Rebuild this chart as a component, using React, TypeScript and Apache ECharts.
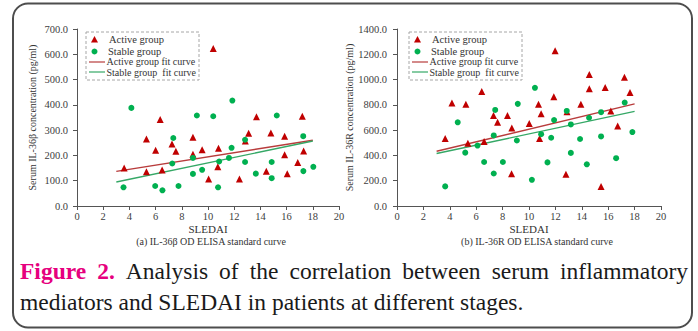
import React, { useEffect, useRef } from 'react';
import * as echarts from 'echarts';

// ---------- data ----------
const xMin = 0;
const xMax = 20;
const xInterval = 2;

const leftYMax = 700;
const leftYInterval = 100;
const rightYMax = 1400;
const rightYInterval = 200;

// (a) IL-36β : [SLEDAI, concentration]
const leftActive: [number, number][] = [
  [3.6, 150], [5.3, 265], [5.3, 135], [6.0, 220], [6.35, 342], [6.5, 142], [7.25, 245],
  [7.55, 217], [8.85, 272], [8.85, 205], [9.55, 222], [10.05, 107], [10.4, 623],
  [10.75, 155], [10.8, 228], [12.4, 107], [12.85, 257], [13.1, 288], [13.7, 353],
  [14.45, 137], [14.8, 289], [15.85, 276], [15.85, 203], [16.05, 128], [16.85, 172],
  [17.2, 355], [17.3, 218],
];
const leftStable: [number, number][] = [
  [3.55, 74], [4.15, 388], [5.97, 79], [6.52, 62], [7.27, 168], [7.35, 269], [7.75, 79],
  [8.85, 127], [8.85, 190], [9.15, 358], [9.55, 143], [10.4, 355], [10.77, 74],
  [10.85, 176], [11.6, 190], [11.8, 230], [11.86, 417], [12.83, 262], [12.83, 174],
  [13.65, 128], [14.86, 174], [14.86, 110], [15.25, 358], [17.27, 276], [17.28, 138],
  [18.04, 155],
];
const leftActiveFit: [number, number][] = [[3, 137], [18, 260]];
const leftStableFit: [number, number][] = [[3, 95], [18, 257]];

// (b) IL-36R : [SLEDAI, concentration]
const rightActive: [number, number][] = [
  [3.65, 533], [4.16, 815], [5.22, 805], [5.37, 497], [6.42, 905], [6.6, 510], [7.31, 715],
  [7.62, 662], [8.37, 715], [8.7, 617], [8.68, 255], [10.02, 652], [10.72, 805],
  [10.8, 533], [10.92, 730], [11.88, 865], [11.98, 1228], [12.8, 252], [12.88, 745],
  [13.93, 805], [14.57, 1040], [14.57, 928], [15.46, 155], [15.77, 938], [16.2, 752],
  [16.72, 632], [17.23, 1018], [17.65, 898],
];
const rightStable: [number, number][] = [
  [3.65, 155], [4.6, 662], [5.17, 422], [6.1, 478], [6.6, 348], [7.33, 558], [7.33, 257],
  [7.44, 760], [8.02, 348], [9.08, 518], [9.15, 808], [10.22, 207], [10.45, 935],
  [10.92, 568], [11.4, 345], [11.68, 540], [11.9, 680], [12.86, 752], [13.17, 645],
  [13.17, 420], [13.87, 530], [14.38, 330], [14.55, 698], [15.46, 550], [15.46, 742],
  [16.6, 378], [17.25, 818], [17.83, 585],
];
const rightActiveFit: [number, number][] = [[3, 433], [18, 808]];
const rightStableFit: [number, number][] = [[3, 415], [18, 748]];

const legendLabels = ['Active group', 'Stable group', 'Active group fit curve', 'Stable group  fit curve'];
const xName = 'SLEDAI';
const leftYName = 'Serum IL-36β concentration (pg/ml)';
const rightYName = 'Serum IL-36R concentration (pg/ml)';
const leftSub = '(a) IL-36β OD ELISA standard curve';
const rightSub = '(b) IL-36R OD ELISA standard curve';
const captionLine1 = ['Figure', '2.', 'Analysis', 'of', 'the', 'correlation', 'between', 'serum', 'inflammatory'];
const captionLine2 = 'mediators and SLEDAI in patients at different stages.';

// ---------- styles ----------
const FONT = '"Liberation Serif", "Times New Roman", serif';
const AXIS = '#555555';
const LABEL = '#404040';
const RED = '#c00000';
const GREEN = '#00b050';
const RED_LINE = '#b83c3c';
const GREEN_LINE = '#35a866';
const PINK = '#e6007e';

function xAxisCfg(gridIndex: number) {
  return {
    type: 'value', gridIndex, min: xMin, max: xMax, interval: xInterval,
    name: xName, nameLocation: 'middle', nameGap: 17, nameMoveOverlap: false,
    nameTextStyle: { fontFamily: FONT, fontSize: 11, color: '#333' },
    axisLine: { show: true, onZero: false, lineStyle: { color: AXIS, width: 1 } },
    axisTick: { show: true, inside: false, length: 4, lineStyle: { color: AXIS } },
    axisLabel: { fontFamily: FONT, fontSize: 10.5, color: LABEL, margin: 5 },
    splitLine: { show: false },
  };
}
function yAxisCfg(gridIndex: number, max: number, interval: number, name: string, gap: number, margin: number) {
  return {
    type: 'value', gridIndex, min: 0, max, interval,
    name, nameLocation: 'middle', nameGap: gap,
    nameTextStyle: { fontFamily: FONT, fontSize: 10, color: '#333' },
    axisLine: { show: true, onZero: false, lineStyle: { color: AXIS, width: 1 } },
    axisTick: { show: true, inside: false, length: 4, lineStyle: { color: AXIS } },
    axisLabel: { fontFamily: FONT, fontSize: 10.5, color: LABEL, margin, formatter: (v: number) => v.toFixed(1) },
    splitLine: { show: false },
  };
}

function txt(x: number, y: number, text: string, size: number, extra: any = {}) {
  return {
    type: 'text', x, y, silent: true,
    style: {
      text, fill: extra.fill || '#333', fontSize: size, fontFamily: FONT,
      fontWeight: extra.fontWeight || 'normal',
      align: extra.align || 'left', textAlign: extra.align || 'left',
      verticalAlign: 'middle', textVerticalAlign: 'middle',
    },
  };
}

function legendGraphic(dx: number) {
  const bx = 86 + dx;
  return [
    { type: 'rect', silent: true, shape: { x: bx, y: 32, width: 113, height: 48 },
      style: { fill: 'none', stroke: '#a6a6a6', lineWidth: 1, lineDash: [3, 2] } },
    { type: 'polygon', silent: true, shape: { points: [[bx + 8.5, 36], [bx + 12, 42.5], [bx + 5, 42.5]] }, style: { fill: RED } },
    txt(bx + 23, 39.5, legendLabels[0], 10.5),
    { type: 'circle', silent: true, shape: { cx: bx + 8.5, cy: 51.5, r: 3 }, style: { fill: GREEN } },
    txt(bx + 22, 51.5, legendLabels[1], 10.5),
    { type: 'line', silent: true, shape: { x1: bx + 3, y1: 62, x2: bx + 19, y2: 62 }, style: { stroke: RED_LINE, lineWidth: 1.2 } },
    txt(bx + 20.5, 61.5, legendLabels[2], 10),
    { type: 'line', silent: true, shape: { x1: bx + 3, y1: 72, x2: bx + 19, y2: 72 }, style: { stroke: GREEN_LINE, lineWidth: 1.2 } },
    txt(bx + 20.5, 72, legendLabels[3], 10),
  ];
}

function captionGraphic() {
  const size = 23.5;
  const left = 20;
  const right = 688;
  const ctx = document.createElement('canvas').getContext('2d')!;
  const widths = captionLine1.map((w, i) => {
    ctx.font = `${i < 2 ? 'bold ' : ''}${size}px ${FONT}`;
    return ctx.measureText(w).width;
  });
  const total = widths.reduce((a, b) => a + b, 0);
  const gap = Math.max(4, (right - left - total) / (captionLine1.length - 1));
  const els: any[] = [];
  let x = left;
  captionLine1.forEach((w, i) => {
    els.push(txt(x, 271, w, size, i < 2 ? { fill: PINK, fontWeight: 'bold' } : { fill: '#1a1a1a' }));
    x += widths[i] + gap;
  });
  els.push(txt(left, 302, captionLine2, size, { fill: '#1a1a1a' }));
  return els;
}

export default function App() {
  const ref = useRef<HTMLDivElement>(null);
  useEffect(() => {
    const chart = echarts.init(ref.current!, null, { renderer: 'svg' });
    const scatter = (data: [number, number][], idx: number, active: boolean) => ({
      type: 'scatter', xAxisIndex: idx, yAxisIndex: idx, data,
      symbol: active ? 'triangle' : 'circle', symbolSize: active ? 7 : 6,
      itemStyle: { color: active ? RED : GREEN, opacity: 1 }, z: 3,
    });
    const fit = (data: [number, number][], idx: number, active: boolean) => ({
      type: 'line', xAxisIndex: idx, yAxisIndex: idx, data, symbol: 'none', silent: true,
      lineStyle: { color: active ? RED_LINE : GREEN_LINE, width: 1.4 }, z: 2,
    });
    chart.setOption({
      animation: false,
      backgroundColor: '#ffffff',
      textStyle: { fontFamily: FONT },
      grid: [
        { left: 77, top: 29, width: 262, height: 177 },
        { left: 397, top: 29, width: 264, height: 177 },
      ],
      xAxis: [xAxisCfg(0), xAxisCfg(1)],
      yAxis: [
        yAxisCfg(0, leftYMax, leftYInterval, leftYName, 40, 9),
        yAxisCfg(1, rightYMax, rightYInterval, rightYName, 41, 10),
      ],
      series: [
        fit(leftActiveFit, 0, true),
        fit(leftStableFit, 0, false),
        scatter(leftActive, 0, true),
        scatter(leftStable, 0, false),
        fit(rightActiveFit, 1, true),
        fit(rightStableFit, 1, false),
        scatter(rightActive, 1, true),
        scatter(rightStable, 1, false),
      ],
      graphic: [
        { type: 'rect', silent: true, shape: { x: 13, y: 3.5, width: 679, height: 324, r: 15 },
          style: { fill: 'none', stroke: '#4d4d4d', lineWidth: 2 } },
        ...legendGraphic(0),
        ...legendGraphic(323),
        txt(211, 241.5, leftSub, 10, { align: 'center' }),
        txt(537, 241.5, rightSub, 10, { align: 'center' }),
        ...captionGraphic(),
      ],
    });
    return () => chart.dispose();
  }, []);
  return <div ref={ref} style={{ position: 'absolute', left: 0, top: 0, width: 698, height: 331, background: '#fff' }} />;
}
